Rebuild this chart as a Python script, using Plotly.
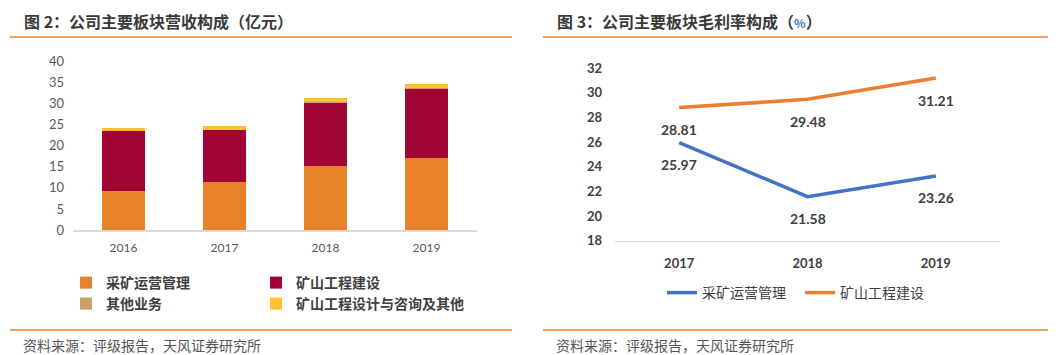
import plotly.graph_objects as go

# ---- data ----
years_rev = ["2016", "2017", "2018", "2019"]
mining_ops = [9.3, 11.3, 15.1, 17.2]
mine_construction = [14.2, 12.5, 15.2, 16.2]
other_business = [0.05, 0.05, 0.2, 0.35]
design_consult = [0.8, 0.9, 0.8, 0.85]

years_gm = ["2017", "2018", "2019"]
gm_mining_ops = [25.97, 21.58, 23.26]
gm_construction = [28.81, 29.48, 31.21]

rev_ticks = [0, 5, 10, 15, 20, 25, 30, 35, 40]
gm_ticks = [18, 20, 22, 24, 26, 28, 30, 32]

CJK = "Noto Sans CJK SC"
NUM = "Lato, Noto Sans CJK SC"
W, H = 1060, 355

def px_x(p):
    return p / W

def px_y(p):
    return (H - p) / H

fig = go.Figure()

bar_specs = [
    ("采矿运营管理", mining_ops, "#E8822A", "legend"),
    ("矿山工程建设", mine_construction, "#A10535", "legend2"),
    ("其他业务", other_business, "#C8A068", "legend3"),
    ("矿山工程设计与咨询及其他", design_consult, "#FDC02E", "legend4"),
]
for name, vals, col, lg in bar_specs:
    fig.add_trace(go.Bar(
        x=years_rev, y=vals, name=name, marker=dict(color=col, line=dict(width=0)),
        width=0.42, xaxis="x", yaxis="y", legend=lg, hoverinfo="skip",
    ))

line_specs = [
    ("采矿运营管理", gm_mining_ops, "#4472C4", "legend5"),
    ("矿山工程建设", gm_construction, "#ED7D31", "legend6"),
]
for name, vals, col, lg in line_specs:
    fig.add_trace(go.Scatter(
        x=years_gm, y=vals, name=name, mode="lines",
        line=dict(color=col, width=3.5), xaxis="x2", yaxis="y2", legend=lg,
        hoverinfo="skip",
    ))

annotations = []
for vals in (gm_mining_ops, gm_construction):
    for i, yv in enumerate(vals):
        annotations.append(dict(
            x=i, y=yv, xref="x2", yref="y2", text=f"{yv:.2f}", showarrow=False,
            yshift=-22, font=dict(family=NUM, size=14, color="#404040", weight="bold"),
        ))

# titles & sources
annotations += [
    dict(x=px_x(22), y=px_y(21), xref="paper", yref="paper", xanchor="left", yanchor="middle",
         text="图 2：公司主要板块营收构成（亿元）", showarrow=False,
         font=dict(family=CJK, size=16, color="#3A3A3A", weight="bold")),
    dict(x=px_x(555), y=px_y(21), xref="paper", yref="paper", xanchor="left", yanchor="middle",
         text="图 3：公司主要板块毛利率构成（<span style='color:#4472C4;font-size:12px'>%</span>）",
         showarrow=False, font=dict(family=CJK, size=16, color="#3A3A3A", weight="bold")),
    dict(x=px_x(22), y=px_y(345), xref="paper", yref="paper", xanchor="left", yanchor="middle",
         text="资料来源：评级报告，天风证券研究所", showarrow=False, borderpad=0,
         font=dict(family=CJK, size=14, color="#555555")),
    dict(x=px_x(555), y=px_y(345), xref="paper", yref="paper", xanchor="left", yanchor="middle",
         text="资料来源：评级报告，天风证券研究所", showarrow=False, borderpad=0,
         font=dict(family=CJK, size=14, color="#555555")),
]

shapes = []
for x0, x1 in ((10, 512), (543, 1048)):
    for yy in (37, 330):
        shapes.append(dict(type="line", xref="paper", yref="paper",
                           x0=px_x(x0), x1=px_x(x1), y0=px_y(yy), y1=px_y(yy),
                           line=dict(color="#ED7D31", width=1.3)))

leg_font_bar = dict(family=CJK, size=14, color="#404040", weight="bold")
leg_font_line = dict(family=CJK, size=14, color="#404040")

def leg(xp, yp, font):
    return dict(x=px_x(xp), y=px_y(yp), xanchor="left", yanchor="middle",
                orientation="h", bgcolor="rgba(0,0,0,0)", font=font,
                itemclick=False, itemdoubleclick=False)

fig.update_layout(
    width=W, height=H, autosize=False,
    margin=dict(l=0, r=0, t=0, b=0, pad=0),
    paper_bgcolor="white", plot_bgcolor="white",
    barmode="stack",
    showlegend=True,
    xaxis=dict(type="category", domain=[px_x(73), px_x(477)], showgrid=False, showline=True,
               linecolor="#D9D9D9", linewidth=1.5, ticks="", zeroline=False,
               tickfont=dict(family=NUM, size=12, color="#595959"), anchor="y",
               ticklabelstandoff=6, automargin=False),
    yaxis=dict(domain=[px_y(230), px_y(61.7)], range=[0, 40], tickvals=rev_ticks,
               showgrid=False, showline=False, zeroline=False, ticks="",
               tickfont=dict(family=NUM, size=13, color="#595959"), anchor="x",
               ticklabelstandoff=8, automargin=False),
    xaxis2=dict(type="category", domain=[px_x(615), px_x(1000)], range=[-0.5, 2.5],
                showgrid=False, showline=True,
                linecolor="#D9D9D9", linewidth=1.5, ticks="", zeroline=False,
                tickfont=dict(family=NUM, size=13, color="#404040", weight="bold"),
                anchor="y2", ticklabelstandoff=10, automargin=False),
    yaxis2=dict(domain=[px_y(240.7), px_y(68.3)], range=[18, 32], tickvals=gm_ticks,
                showgrid=False, showline=False, zeroline=False, ticks="",
                tickfont=dict(family=NUM, size=13, color="#404040", weight="bold"),
                anchor="x2", ticklabelstandoff=12, automargin=False),
    legend=leg(66, 283, leg_font_bar),
    legend2=leg(256, 283, leg_font_bar),
    legend3=leg(66, 304, leg_font_bar),
    legend4=leg(256, 304, leg_font_bar),
    legend5=leg(662, 293, leg_font_line),
    legend6=leg(800, 293, leg_font_line),
    annotations=annotations,
    shapes=shapes,
)

fig.write_html(
    "out.html",
    config={"displayModeBar": False, "staticPlot": True},
    post_script="document.body.style.margin='0px';document.body.style.overflow='hidden';",
)
